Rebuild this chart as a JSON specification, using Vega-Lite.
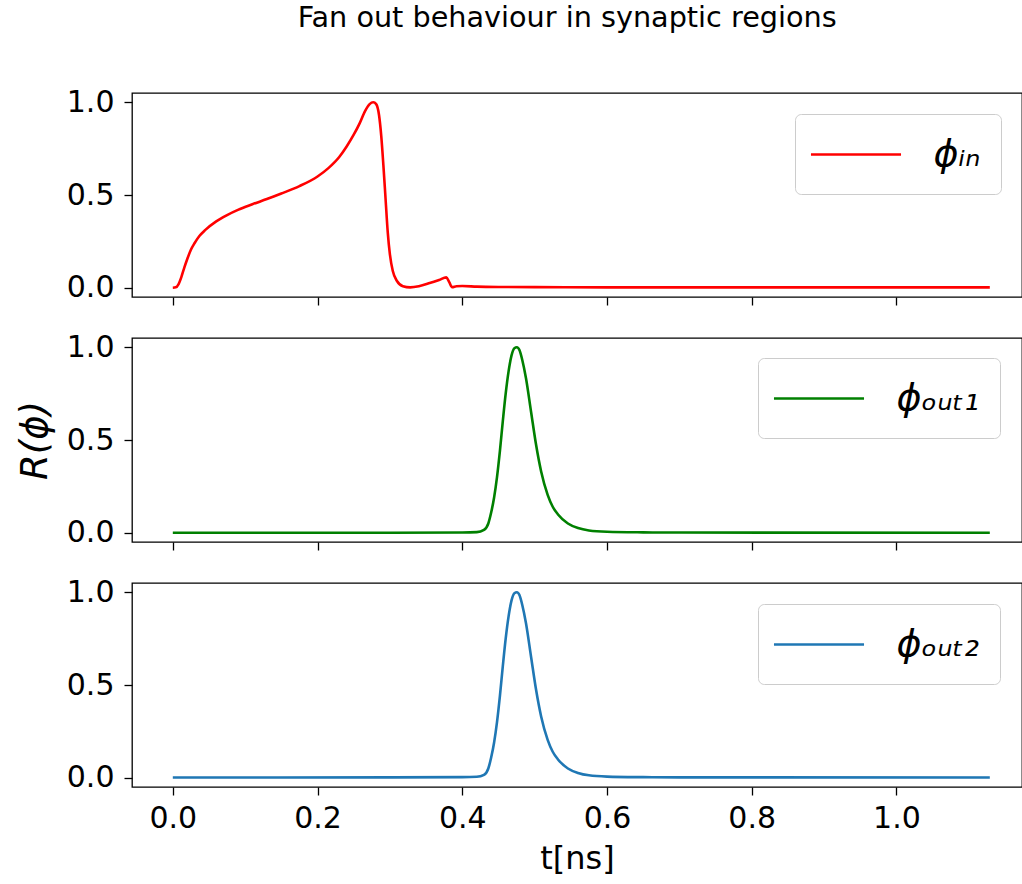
{
  "$schema": "https://vega.github.io/schema/vega-lite/v6.json",
  "padding": {"left": 15, "top": 3, "right": 2, "bottom": 2},
  "background": "white",
  "title": {"text": "Fan out behaviour in synaptic regions", "fontSize": 28.7, "font": "DejaVu Sans", "fontWeight": "normal", "color": "black", "anchor": "middle", "offset": 54, "dx": 48},
  "config": {
    "font": "DejaVu Sans",
    "view": {"stroke": "black", "strokeWidth": 1.3},
    "axis": {"domain": false, "ticks": true, "tickColor": "black", "tickSize": 8, "tickWidth": 1.3, "labelFontSize": 30, "labelColor": "black", "labelFont": "DejaVu Sans", "labelPadding": 8, "grid": false, "titleFont": "DejaVu Sans", "titleFontWeight": "normal", "titleColor": "black", "titleFontSize": 32},
    "axisY": {"labelPadding": 10},
    "legend": {"symbolType": "M-2.37,0H2.37", "symbolSize": 1444, "symbolStrokeWidth": 2.6, "symbolOffset": 20.5, "labelFontSize": 38, "labelFont": "DejaVu Sans", "labelFontStyle": "italic", "labelColor": "black", "padding": 20, "strokeColor": "#cccccc", "cornerRadius": 6, "fillColor": "white", "labelOffset": 57}
  },
  "datasets": {
    "red": [
      {"t": 0, "r": 0}, {"t": 0.004, "r": 0.002}, {"t": 0.008, "r": 0.02}, {"t": 0.012, "r": 0.06}, {"t": 0.016, "r": 0.11}, {"t": 0.02, "r": 0.155}, {"t": 0.025, "r": 0.205}, {"t": 0.03, "r": 0.24}, {"t": 0.037, "r": 0.28}, {"t": 0.045, "r": 0.312}, {"t": 0.06, "r": 0.358}, {"t": 0.075, "r": 0.392}, {"t": 0.09, "r": 0.42}, {"t": 0.11, "r": 0.45}, {"t": 0.13, "r": 0.478}, {"t": 0.15, "r": 0.508}, {"t": 0.175, "r": 0.548}, {"t": 0.2, "r": 0.6}, {"t": 0.215, "r": 0.645}, {"t": 0.23, "r": 0.705}, {"t": 0.24, "r": 0.76}, {"t": 0.25, "r": 0.825}, {"t": 0.258, "r": 0.885}, {"t": 0.266, "r": 0.955}, {"t": 0.272, "r": 0.99}, {"t": 0.277, "r": 1.0}, {"t": 0.281, "r": 0.99}, {"t": 0.285, "r": 0.93}, {"t": 0.288, "r": 0.82}, {"t": 0.291, "r": 0.66}, {"t": 0.294, "r": 0.48}, {"t": 0.297, "r": 0.3}, {"t": 0.3, "r": 0.18}, {"t": 0.304, "r": 0.09}, {"t": 0.31, "r": 0.035}, {"t": 0.318, "r": 0.008}, {"t": 0.328, "r": 0.002}, {"t": 0.34, "r": 0.008}, {"t": 0.355, "r": 0.025}, {"t": 0.368, "r": 0.042}, {"t": 0.378, "r": 0.056}, {"t": 0.382, "r": 0.03}, {"t": 0.386, "r": 0.003}, {"t": 0.392, "r": 0.008}, {"t": 0.4, "r": 0.009}, {"t": 0.42, "r": 0.006}, {"t": 0.45, "r": 0.004}, {"t": 0.5, "r": 0.003}, {"t": 0.6, "r": 0.002}, {"t": 0.8, "r": 0.002}, {"t": 1.0, "r": 0.002}, {"t": 1.129, "r": 0.002}
    ],
    "green": [
      {"t": 0, "r": 0}, {"t": 0.3, "r": 0}, {"t": 0.4, "r": 0.001}, {"t": 0.42, "r": 0.003}, {"t": 0.43, "r": 0.015}, {"t": 0.436, "r": 0.05}, {"t": 0.44, "r": 0.11}, {"t": 0.444, "r": 0.19}, {"t": 0.448, "r": 0.3}, {"t": 0.452, "r": 0.44}, {"t": 0.456, "r": 0.6}, {"t": 0.46, "r": 0.75}, {"t": 0.464, "r": 0.87}, {"t": 0.468, "r": 0.955}, {"t": 0.472, "r": 0.995}, {"t": 0.4755, "r": 1.0}, {"t": 0.479, "r": 0.985}, {"t": 0.483, "r": 0.93}, {"t": 0.488, "r": 0.834}, {"t": 0.495, "r": 0.654}, {"t": 0.502, "r": 0.474}, {"t": 0.509, "r": 0.33}, {"t": 0.518, "r": 0.204}, {"t": 0.525, "r": 0.14}, {"t": 0.532, "r": 0.1}, {"t": 0.546, "r": 0.05}, {"t": 0.56, "r": 0.025}, {"t": 0.575, "r": 0.012}, {"t": 0.6, "r": 0.005}, {"t": 0.65, "r": 0.002}, {"t": 0.7, "r": 0.001}, {"t": 1.129, "r": 0}
    ],
    "blue": [
      {"t": 0, "r": 0.001}, {"t": 0.3, "r": 0.002}, {"t": 0.4, "r": 0.003}, {"t": 0.42, "r": 0.005}, {"t": 0.43, "r": 0.016}, {"t": 0.436, "r": 0.05}, {"t": 0.44, "r": 0.11}, {"t": 0.444, "r": 0.19}, {"t": 0.448, "r": 0.3}, {"t": 0.452, "r": 0.44}, {"t": 0.456, "r": 0.6}, {"t": 0.46, "r": 0.75}, {"t": 0.464, "r": 0.87}, {"t": 0.468, "r": 0.955}, {"t": 0.472, "r": 0.995}, {"t": 0.4755, "r": 1.0}, {"t": 0.479, "r": 0.985}, {"t": 0.483, "r": 0.93}, {"t": 0.488, "r": 0.834}, {"t": 0.495, "r": 0.654}, {"t": 0.502, "r": 0.474}, {"t": 0.509, "r": 0.33}, {"t": 0.518, "r": 0.204}, {"t": 0.525, "r": 0.14}, {"t": 0.532, "r": 0.1}, {"t": 0.546, "r": 0.05}, {"t": 0.56, "r": 0.026}, {"t": 0.575, "r": 0.013}, {"t": 0.6, "r": 0.006}, {"t": 0.65, "r": 0.003}, {"t": 0.7, "r": 0.002}, {"t": 1.129, "r": 0.001}
    ]
  },
  "spacing": 24,
  "resolve": {"scale": {"color": "independent"}, "legend": {"color": "independent"}},
  "vconcat": [
    {
      "width": 890, "height": 204,
      "data": {"name": "red"},
      "mark": {"type": "line", "strokeWidth": 2.6, "interpolate": "monotone"},
      "encoding": {
        "x": {"field": "t", "type": "quantitative", "scale": {"domain": [-0.0564, 1.1735], "nice": false, "zero": false}, "axis": {"values": [0, 0.2, 0.4, 0.6, 0.8, 1.0], "labels": false, "title": null}},
        "y": {"field": "r", "type": "quantitative", "scale": {"domain": [-0.05, 1.05], "nice": false}, "axis": {"values": [0, 0.5, 1], "format": ".1f", "title": null}},
        "color": {"datum": "ϕᵢₙ", "type": "nominal", "scale": {"range": ["#ff0000"]}, "legend": {"orient": "none", "legendX": 663, "legendY": 21, "title": null}}
      }
    },
    {
      "width": 890, "height": 204,
      "data": {"name": "green"},
      "mark": {"type": "line", "strokeWidth": 2.6, "interpolate": "monotone"},
      "encoding": {
        "x": {"field": "t", "type": "quantitative", "scale": {"domain": [-0.0564, 1.1735], "nice": false, "zero": false}, "axis": {"values": [0, 0.2, 0.4, 0.6, 0.8, 1.0], "labels": false, "title": null}},
        "y": {"field": "r", "type": "quantitative", "scale": {"domain": [-0.05, 1.05], "nice": false}, "axis": {"values": [0, 0.5, 1], "format": ".1f", "title": "R(ϕ)", "titleFontStyle": "italic", "titleFontSize": 37, "titlePadding": 12}},
        "color": {"datum": "ϕₒᵤₜ₁", "type": "nominal", "scale": {"range": ["#008000"]}, "legend": {"orient": "none", "legendX": 626, "legendY": 20, "title": null}}
      }
    },
    {
      "width": 890, "height": 204,
      "data": {"name": "blue"},
      "mark": {"type": "line", "strokeWidth": 2.6, "interpolate": "monotone"},
      "encoding": {
        "x": {"field": "t", "type": "quantitative", "scale": {"domain": [-0.0564, 1.1735], "nice": false, "zero": false}, "axis": {"values": [0, 0.2, 0.4, 0.6, 0.8, 1.0], "format": ".1f", "title": "t[ns]", "titlePadding": 10}},
        "y": {"field": "r", "type": "quantitative", "scale": {"domain": [-0.05, 1.05], "nice": false}, "axis": {"values": [0, 0.5, 1], "format": ".1f", "title": null}},
        "color": {"datum": "ϕₒᵤₜ₂", "type": "nominal", "scale": {"range": ["#1f77b4"]}, "legend": {"orient": "none", "legendX": 626, "legendY": 21, "title": null}}
      }
    }
  ]
}
